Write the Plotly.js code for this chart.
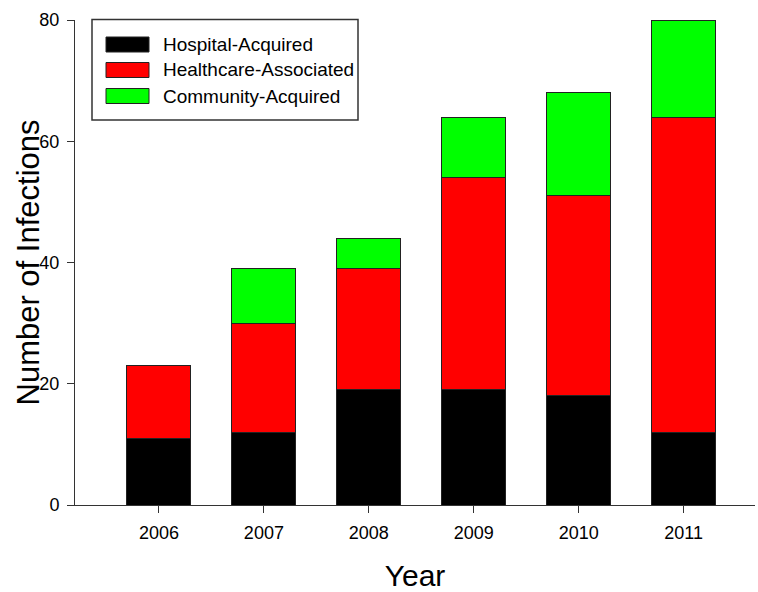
<!DOCTYPE html>
<html>
<head>
<meta charset="utf-8">
<script src="https://cdn.plot.ly/plotly-3.0.1.min.js"></script>
<style>html,body{margin:0;padding:0;background:#fff;}#chart{width:758px;height:592px;}</style>
</head>
<body>
<div id="chart"></div>
<script>
const years = ["2006", "2007", "2008", "2009", "2010", "2011"];
const hospitalAcquired = [11, 12, 19, 19, 18, 12];
const healthcareAssociated = [12, 18, 20, 35, 33, 52];
const communityAcquired = [0, 9, 5, 10, 17, 16];
const seriesNames = ["Hospital-Acquired", "Healthcare-Associated", "Community-Acquired"];
const seriesColors = ["#000000", "#FF0000", "#00FF00"];
const yTicks = [0, 20, 40, 60, 80];
const xTitle = "Year";
const yTitle = "Number of Infections";

const W = 758, H = 592;
const M = {l: 75, r: 3, t: 20, b: 87};
const pw = W - M.l - M.r, ph = H - M.t - M.b;
// pixel -> paper helpers for the legend / title placement
const px = x => (x - M.l) / pw;
const py = y => 1 - (y - M.t) / ph;

const xIdx = years.map((_, i) => i);
const outline = {color: "#222", width: 1};
const seriesValues = [hospitalAcquired, healthcareAssociated, communityAcquired];
const data = seriesValues.map((vals, k) => ({
  type: "bar", x: xIdx, y: vals, name: seriesNames[k],
  marker: {color: seriesColors[k], line: outline},
  hoverinfo: "y+name", showlegend: false
}));

const font = "Liberation Sans, Arial, sans-serif";

// custom legend (box, wide swatches, text)
const shapes = [{
  type: "rect", xref: "paper", yref: "paper",
  x0: px(92), x1: px(358), y0: py(120), y1: py(19.5),
  line: {color: "#333", width: 1.5}, fillcolor: "#fff", layer: "above"
}];
const annotations = [];
const rowY = [44.5, 70, 96];
seriesNames.forEach((name, k) => {
  shapes.push({
    type: "rect", xref: "paper", yref: "paper",
    x0: px(106), x1: px(149), y0: py(rowY[k] + 7.5), y1: py(rowY[k] - 7.5),
    line: {color: "#222", width: 1}, fillcolor: seriesColors[k], layer: "above"
  });
  annotations.push({
    xref: "paper", yref: "paper", x: px(161), y: py(rowY[k]),
    xanchor: "left", yanchor: "middle", showarrow: false,
    text: name, font: {size: 19, family: font, color: "#000"}
  });
});
// y axis title
annotations.push({
  xref: "paper", yref: "paper", x: px(28), y: 0.5,
  xanchor: "center", yanchor: "middle", showarrow: false, textangle: -90,
  text: yTitle, font: {size: 31, family: font, color: "#000"}
});

const layout = {
  width: W, height: H,
  margin: M,
  paper_bgcolor: "#fff", plot_bgcolor: "#fff",
  barmode: "stack", bargap: 0.39,
  font: {family: font, color: "#000"},
  showlegend: false,
  shapes: shapes,
  annotations: annotations,
  xaxis: {
    range: [-0.8, 5.68],
    tickmode: "array", tickvals: xIdx, ticktext: years,
    ticks: "outside", ticklen: 7, tickwidth: 1, tickcolor: "#333",
    showline: true, linecolor: "#333", linewidth: 1,
    showgrid: false, zeroline: false,
    ticklabelstandoff: 4,
    tickfont: {size: 18, family: font},
    title: {text: xTitle, font: {size: 30, family: font}, standoff: 24}
  },
  yaxis: {
    range: [0, 80],
    tickmode: "array", tickvals: yTicks,
    ticks: "outside", ticklen: 7, tickwidth: 1, tickcolor: "#333",
    showline: true, linecolor: "#333", linewidth: 1,
    showgrid: false, zeroline: false,
    ticklabelstandoff: 4,
    tickfont: {size: 18, family: font}
  }
};
Plotly.newPlot("chart", data, layout, {displayModeBar: false, staticPlot: true});
</script>
</body>
</html>
